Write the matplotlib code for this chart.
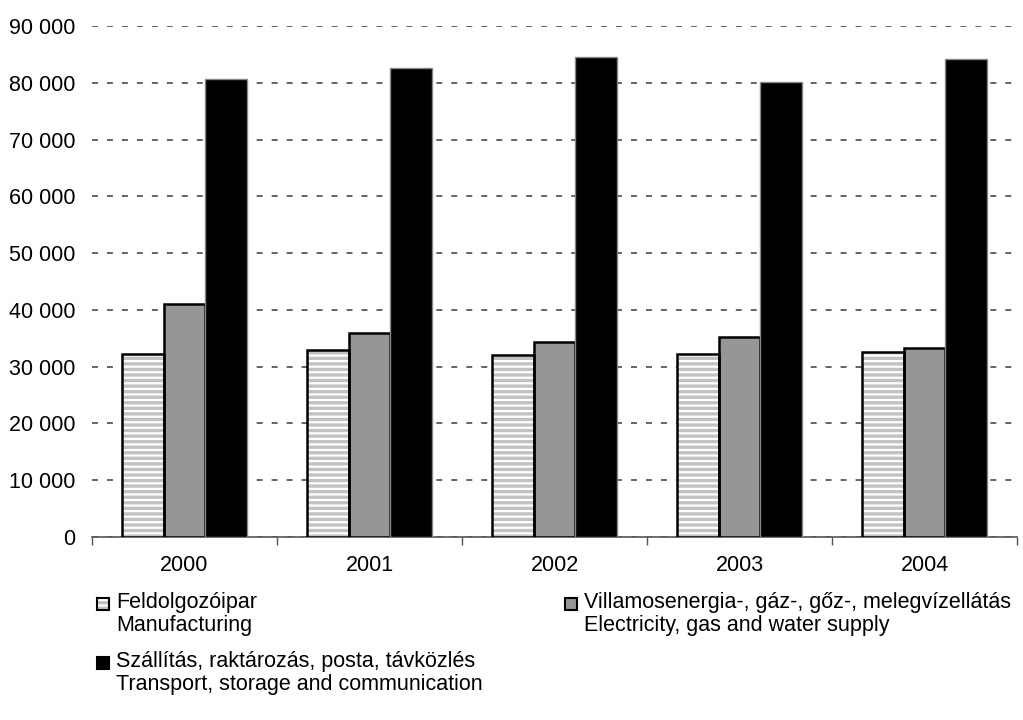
import matplotlib
matplotlib.use("Agg")
import matplotlib.pyplot as plt
import numpy as np
from matplotlib.patches import Rectangle

years = ["2000", "2001", "2002", "2003", "2004"]
manufacturing = [32300, 32900, 32100, 32200, 32600]
electricity = [41100, 35900, 34300, 35300, 33300]
transport = [80700, 82600, 84500, 80200, 84100]

labels = [
    "Feldolgozóipar\nManufacturing",
    "Villamosenergia-, gáz-, gőz-, melegvízellátás\nElectricity, gas and water supply",
    "Szállítás, raktározás, posta, távközlés\nTransport, storage and communication",
]
yticks = [0, 10000, 20000, 30000, 40000, 50000, 60000, 70000, 80000, 90000]

plt.rcParams["font.family"] = ["Liberation Sans", "DejaVu Sans"]
plt.rcParams["hatch.linewidth"] = 2.4

FS = 15.5
HATCH_GRAY = "#c2c2c2"

W, H = 1023, 720
fig = plt.figure(figsize=(W / 100, H / 100), dpi=100)
ax = fig.add_axes([92 / W, (H - 537) / H, (1017 - 92) / W, (537 - 26) / H])

x = np.arange(len(years))
bw = 0.224
# hatched fill (light gray stripes), then black outline
ax.bar(x - bw, manufacturing, bw, color="white", edgecolor=HATCH_GRAY, linewidth=0,
       hatch="---", zorder=3)
ax.bar(x - bw, manufacturing, bw, fill=False, edgecolor="black", linewidth=1.8, zorder=4)
ax.bar(x, electricity, bw, color="#969696", edgecolor="black", linewidth=1.8, zorder=3)
ax.bar(x + bw, transport, bw, color="black", edgecolor="#888888", linewidth=1.0, zorder=3)

ax.set_xlim(-0.5, len(years) - 0.5)
ax.set_ylim(0, 90000)
ax.set_yticks(yticks)
ax.set_yticklabels([f"{v:,}".replace(",", " ") for v in yticks], fontsize=FS)
ax.yaxis.grid(True, linestyle=(0, (3.9, 5.9)), color="#3a3a3a", linewidth=1.1, zorder=0)
ax.set_axisbelow(True)
ax.tick_params(axis="y", length=0, pad=12)

ax.set_xticks(x)
ax.set_xticklabels(years, fontsize=FS)
ax.set_xticks(np.arange(len(years) + 1) - 0.5, minor=True)
ax.tick_params(axis="x", which="major", length=0, pad=13)
ax.tick_params(axis="x", which="minor", length=6, width=1.0, color="#555555", direction="out")

for s in ["left", "right", "top"]:
    ax.spines[s].set_visible(False)
ax.spines["bottom"].set_color("#555555")
ax.spines["bottom"].set_linewidth(1.2)

# legend (manual placement)
entries = [
    (97, 604, labels[0], [dict(facecolor="white", edgecolor=HATCH_GRAY, hatch="---", linewidth=0),
                          dict(fill=False, edgecolor="black", linewidth=1.5)]),
    (565, 604, labels[1], [dict(facecolor="#969696", edgecolor="black", linewidth=1.5)]),
    (97, 663, labels[2], [dict(facecolor="black", edgecolor="black", linewidth=1.5)]),
]
for px, py, lab, styles in entries:
    sq = 12
    for st in styles:
        fig.patches.append(Rectangle((px / W, (H - py - sq / 2) / H), sq / W, sq / H,
                                     transform=fig.transFigure, **st))
    fig.text((px + 19) / W, (H - py + 12) / H, lab, fontsize=FS, va="top", ha="left",
             linespacing=1.1)

fig.savefig("out.png", dpi=100)
